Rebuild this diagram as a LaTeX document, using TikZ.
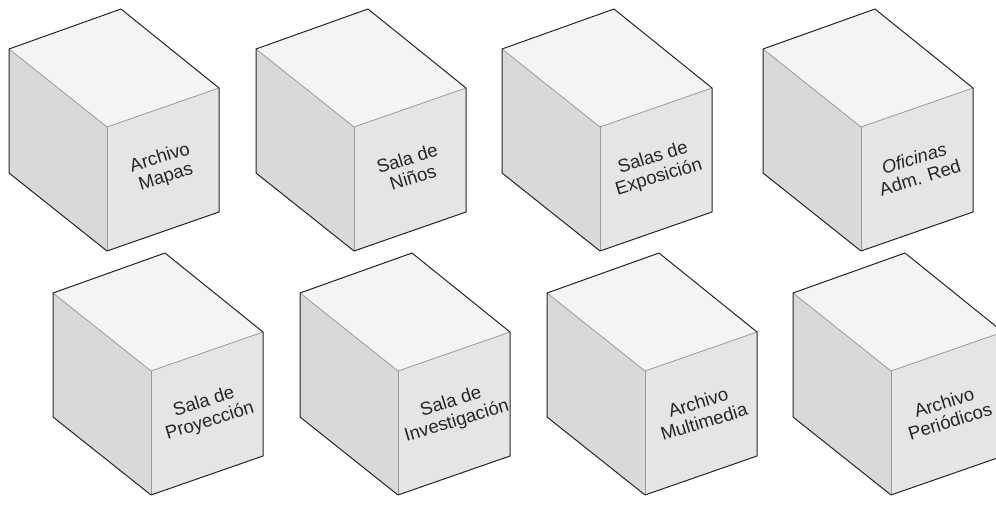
\documentclass[tikz,border=0pt]{standalone}
\usepackage{fontspec}
\setmainfont{Liberation Sans}
\usetikzlibrary{positioning}

\definecolor{topface}{HTML}{F4F4F4}
\definecolor{leftface}{HTML}{D9D9D9}
\definecolor{rightface}{HTML}{E5E5E5}
\definecolor{edgedark}{HTML}{262626}
\definecolor{edgelight}{HTML}{9A9A9A}
\definecolor{labelgray}{HTML}{262626}

\begin{document}
\begin{tikzpicture}[x=1pt, y=-1pt,
		outer/.style={draw=edgedark, line width=1pt, line join=round},
		inner/.style={draw=edgelight, line width=0.8pt},
		every node/.style={font=\fontsize{18.5}{20}\selectfont, text=labelgray, align=center, inner sep=0pt}]
			\useasboundingbox (0,0) rectangle (996,509);
			\clip (0,0) rectangle (996,509);
			
			% Cubes: back-left top corner at (\px,\py), top row then bottom row
			\foreach \px/\py/\name/\txt in {
				9/49/mapas/{Archivo\\Mapas},
				256/49/ninos/{Sala de\\Niños},
				502/49/exposicion/{Salas de\\Exposición},
				763/49/oficinas/{\textit{Oficinas}\\Adm. Red},
				53/293/proyeccion/{Sala de\\Proyección},
				300/293/investigacion/{Sala de\\Investigación},
				547/293/multimedia/{Archivo\\Multimedia},
				793/293/periodicos/{Archivo\\Periódicos}} {
				% Faces
				\fill[topface] (\px,\py) -- ++(112,-40) -- ++(98,79) -- ++(-112,39) -- cycle;
				\fill[leftface] (\px,\py) -- ++(98,78) -- ++(0,124) -- ++(-98,-78) -- cycle;
				\fill[rightface] (\px+98,\py+78) -- ++(112,-39) -- ++(0,124) -- ++(-112,39) -- cycle;
				
				% Edges, light inside and dark outline
				\draw[inner] (\px,\py) -- ++(98,78) -- ++(112,-39);
				\draw[inner] (\px+98,\py+78) -- ++(0,124);
				\draw[outer] (\px,\py) -- ++(112,-40) -- ++(98,79) -- ++(0,124)
					-- ++(-112,39) -- ++(-98,-78) -- cycle;
				
				% Label on the right face
				\node[rotate=17] (\name) at (\px+154,\py+119) {\txt};
			}
		\end{tikzpicture}
\end{document}
